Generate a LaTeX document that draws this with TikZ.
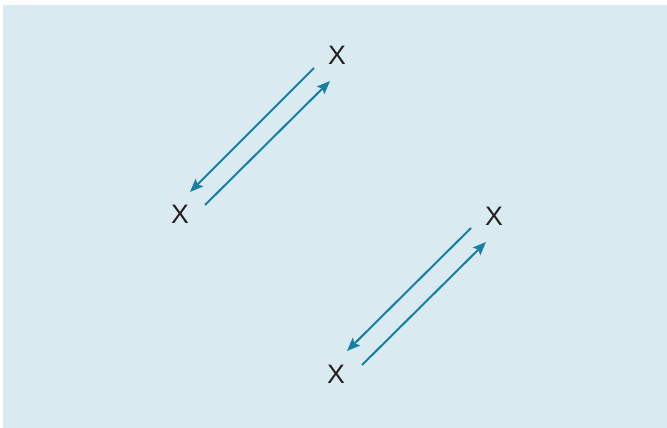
\documentclass[tikz,border=0pt]{standalone}
\usepackage{fontspec}
\setmainfont{Liberation Sans}
\usepackage{xcolor}
\usetikzlibrary{arrows.meta}
\definecolor{panelbg}{RGB}{217,234,241}
\definecolor{flowblue}{RGB}{22,128,163}
\definecolor{labelgray}{RGB}{35,31,32}

\begin{document}
\begin{tikzpicture}[x=0.75pt, y=-0.75pt,
    varlabel/.style={inner sep=0pt, text=labelgray, font=\fontsize{20}{22}\selectfont},
    flow/.style={flowblue, line width=1.5pt, -{Stealth[length=10pt, width=8pt, inset=2pt]}}]
        \useasboundingbox (0,0) rectangle (667,428);
        % Light blue panel
        \fill[panelbg] (3,5) rectangle (667,428);
        % First pair
        \node[varlabel] (xa) at (337,55) {X};
        \node[varlabel] (xb) at (180,214.5) {X};
        \coordinate (a1) at (314,68);
        \coordinate (b1) at (190,192);
        \coordinate (b2) at (205,205);
        \coordinate (a2) at (330,81);
        \draw[flow] (a1) -- (b1);
        \draw[flow] (b2) -- (a2);
        % Second pair
        \node[varlabel] (xc) at (494,216.5) {X};
        \node[varlabel] (xd) at (336,374.5) {X};
        \coordinate (c1) at (471,228);
        \coordinate (d1) at (347,351);
        \coordinate (d2) at (362,365);
        \coordinate (c2) at (486,242);
        \draw[flow] (c1) -- (d1);
        \draw[flow] (d2) -- (c2);
      \end{tikzpicture}
\end{document}
